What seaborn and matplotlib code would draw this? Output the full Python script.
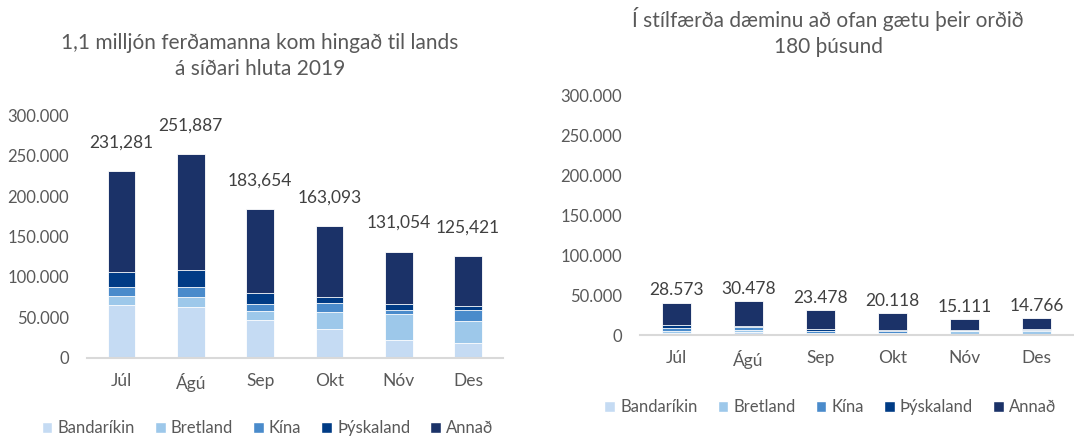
import numpy as np
import pandas as pd
import matplotlib
matplotlib.use("Agg")
import matplotlib.pyplot as plt
from matplotlib.patches import Patch
from matplotlib.ticker import FuncFormatter
import seaborn as sns

months = ["Júl", "Ágú", "Sep", "Okt", "Nóv", "Des"]
countries = ["Bandaríkin", "Bretland", "Kína", "Þýskaland", "Annað"]
colors = ["#C5DBF3", "#9DC8EA", "#4A8BCB", "#003B85", "#1B3268"]

# left chart: 2019 arrivals by nationality
left_band = [65290, 62390, 46690, 35530, 21900, 18180]
left_bret = [11160, 12400, 11570, 21070, 32230, 27270]
left_kina = [11160, 12800, 8260, 11160, 4960, 13640]
left_thys = [19000, 20660, 14050, 7850, 7020, 4550]
left_annad = [124671, 143637, 103084, 87483, 64944, 61781]
left_labels = ["231,281", "251,887", "183,654", "163,093", "131,054", "125,421"]

# right chart: stylised example
right_band = [2500, 3300, 1250, 1400, 1800, 1800]
right_bret = [3100, 3000, 1650, 1650, 2900, 3100]
right_kina = [3750, 3300, 1650, 2500, 700, 1600]
right_thys = [3750, 1900, 3000, 900, 600, 500]
right_annad = [27500, 30750, 23750, 20750, 13750, 13750]
right_labels = ["28.573", "30.478", "23.478", "20.118", "15.111", "14.766"]

grey = "#595959"
sns.set_theme(style="white")
plt.rcParams["font.family"] = ["Lato", "DejaVu Sans"]

fig = plt.figure(figsize=(10.74, 4.37), dpi=100)
ax1 = fig.add_axes([0.081, 0.1815, 0.387, 0.554])
ax2 = fig.add_axes([0.596, 0.2334, 0.403, 0.549])


def stacked(ax, parts, labels, label_off):
    df = pd.DataFrame(dict(zip(countries, parts)), index=months)
    cum = df.cumsum(axis=1)
    for c, col in reversed(list(zip(countries, colors))):
        sns.barplot(x=months, y=cum[c].values, color=col, width=0.4,
                    edgecolor="white", linewidth=0.6, saturation=1, ax=ax)
    totals = cum[countries[-1]].values
    for i, (t, lab) in enumerate(zip(totals, labels)):
        ax.annotate(lab, (i, t), xytext=(0, label_off), textcoords="offset points",
                    ha="center", va="bottom", fontsize=12.5, color="#404040")
    ax.set_ylim(0, 300000)
    ax.set_xlim(-0.5, 5.5)
    ax.set_yticks(range(0, 300001, 50000))
    ax.yaxis.set_major_formatter(FuncFormatter(lambda v, p: f"{int(v):,}".replace(",", ".")))
    for s in ["top", "right", "left"]:
        ax.spines[s].set_visible(False)
    ax.spines["bottom"].set_color("#D9D9D9")
    ax.spines["bottom"].set_linewidth(1.5)
    ax.tick_params(axis="y", length=0, pad=13, labelsize=12, labelcolor=grey)
    ax.tick_params(axis="x", length=0, pad=11, labelsize=12.5, labelcolor=grey)
    ax.set_ylabel("")
    ax.set_xlabel("")


stacked(ax1, [left_band, left_bret, left_kina, left_thys, left_annad], left_labels, 15)
stacked(ax2, [right_band, right_bret, right_kina, right_thys, right_annad], right_labels, 3)

fig.text(0.242, 0.872, "1,1 milljón ferðamanna kom hingað til lands\ná síðari hluta 2019",
         ha="center", va="center", fontsize=15, color=grey, linespacing=1.4)
fig.text(0.771, 0.927, "Í stílfærða dæminu að ofan gætu þeir orðið\n180 þúsund",
         ha="center", va="center", fontsize=15, color=grey, linespacing=1.35)

handles = [Patch(facecolor=c, label=n) for n, c in zip(countries, colors)]
for x, y in [(0.249, 0.02), (0.773, 0.068)]:
    fig.legend(handles=handles, loc="center", bbox_to_anchor=(x, y), ncol=5,
               frameon=False, fontsize=12, handlelength=0.65, handleheight=0.65,
               handletextpad=0.3, columnspacing=1.2, labelcolor=grey)

fig.savefig("out.png", dpi=100)
